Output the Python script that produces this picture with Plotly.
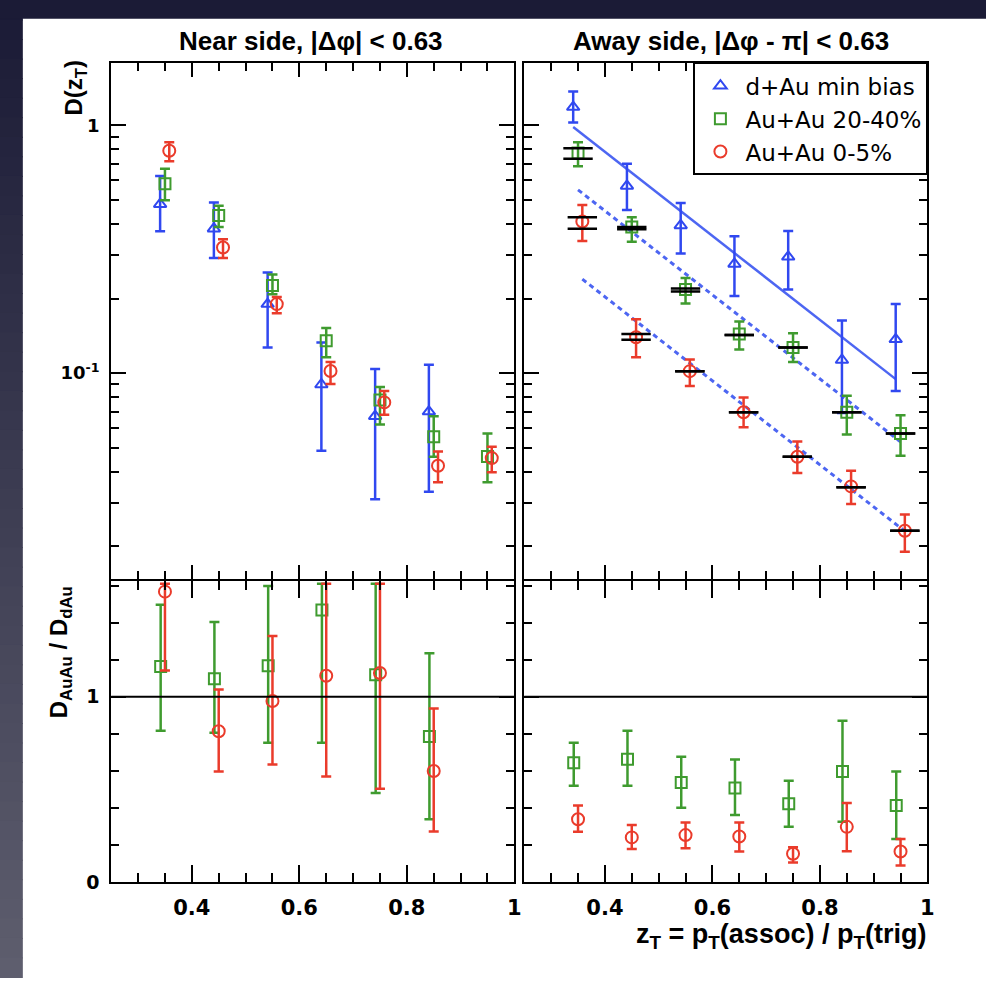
import numpy as np
import plotly.graph_objects as go

W, H = 993, 988

# ---------------------------------------------------------------- data
ZT_BINS = [0.35, 0.45, 0.55, 0.65, 0.75, 0.85, 0.95]

# Near side, |dphi| < 0.63 : D(zT) with lower / upper error bounds
NEAR_DAU = [0.481, 0.383, 0.190, 0.090, 0.067, 0.070]
NEAR_DAU_HI = [0.625, 0.489, 0.255, 0.133, 0.104, 0.108]
NEAR_DAU_LO = [0.374, 0.292, 0.127, 0.0486, 0.031, 0.0332]

NEAR_2040 = [0.582, 0.433, 0.226, 0.135, 0.078, 0.0554, 0.0461]
NEAR_2040_HI = [0.668, 0.474, 0.250, 0.152, 0.088, 0.067, 0.057]
NEAR_2040_LO = [0.499, 0.389, 0.208, 0.116, 0.062, 0.046, 0.0363]

NEAR_005 = [0.790, 0.3215, 0.190, 0.102, 0.0762, 0.0423, 0.0454]
NEAR_005_HI = [0.856, 0.347, 0.203, 0.111, 0.0848, 0.0483, 0.0505]
NEAR_005_LO = [0.717, 0.292, 0.1745, 0.0904, 0.068, 0.0363, 0.0398]

# Away side, |dphi - pi| < 0.63
AWAY_DAU = [1.187, 0.570, 0.395, 0.276, 0.295, 0.113, 0.137]
AWAY_DAU_HI = [1.37, 0.70, 0.486, 0.357, 0.375, 0.163, 0.190]
AWAY_DAU_LO = [1.028, 0.456, 0.304, 0.205, 0.2175, 0.069, 0.0848]

AWAY_2040 = [0.7735, 0.389, 0.2175, 0.144, 0.127, 0.0695, 0.057]
AWAY_2040_HI = [0.856, 0.426, 0.242, 0.1616, 0.145, 0.081, 0.0676]
AWAY_2040_LO = [0.684, 0.339, 0.191, 0.1247, 0.111, 0.0566, 0.0464]
AWAY_2040_SYS_HI = [0.81, 0.389, 0.2195, 0.1427, 0.127, 0.0695, 0.057]
AWAY_2040_SYS_LO = [0.734, 0.381, 0.2135, 0.1427, 0.127, 0.0695, 0.057]

AWAY_005 = [0.4095, 0.1396, 0.1019, 0.0695, 0.046, 0.0349, 0.0231]
AWAY_005_HI = [0.477, 0.165, 0.1134, 0.0797, 0.053, 0.0404, 0.0269]
AWAY_005_LO = [0.342, 0.116, 0.0888, 0.0605, 0.0395, 0.0296, 0.019]
AWAY_005_SYS_HI = [0.426, 0.1438, 0.1019, 0.0695, 0.046, 0.0346, 0.0231]
AWAY_005_SYS_LO = [0.383, 0.1365, 0.1019, 0.0695, 0.046, 0.0346, 0.0231]

# exponential fit to d+Au away side, and its scaled copies for Au+Au
FIT_AMP = 3.73
FIT_SLOPE = 3.905
FIT_SCALE_2040 = 0.578
FIT_SCALE_005 = 0.26

# Ratios D_AuAu / D_dAu
RATIO_NEAR_2040 = [1.163, 1.097, 1.167, 1.468, 1.119, 0.786]
RATIO_NEAR_2040_HI = [1.496, 1.403, 1.597, 1.61, 1.61, 1.234]
RATIO_NEAR_2040_LO = [0.817, 0.805, 0.752, 0.752, 0.48, 0.339]

RATIO_NEAR_005 = [1.567, 0.814, 0.977, 1.113, 1.128, 0.599]
RATIO_NEAR_005_HI = [1.61, 1.039, 1.328, 1.61, 1.61, 0.936]
RATIO_NEAR_005_LO = [1.142, 0.596, 0.635, 0.569, 0.5035, 0.273]

RATIO_AWAY_2040 = [0.644, 0.663, 0.537, 0.507, 0.422, 0.596, 0.413]
RATIO_AWAY_2040_HI = [0.752, 0.817, 0.676, 0.661, 0.546, 0.871, 0.596]
RATIO_AWAY_2040_LO = [0.520, 0.520, 0.401, 0.362, 0.298, 0.326, 0.232]

RATIO_AWAY_005 = [0.339, 0.241, 0.2535, 0.246, 0.1525, 0.298, 0.165]
RATIO_AWAY_005_HI = [0.413, 0.3085, 0.321, 0.321, 0.188, 0.427, 0.232]
RATIO_AWAY_005_LO = [0.271, 0.179, 0.1826, 0.165, 0.105, 0.166, 0.090]

LEGEND_NAMES = ["d+Au min bias", "Au+Au 20-40%", "Au+Au 0-5%"]

# ---------------------------------------------------------------- style
BLUE = "#3048f0"
GREEN = "#3f9b2f"
RED = "#ea3b2b"
FIT_BLUE = "#4d66f2"
TICK_FONT = "DejaVu Sans"
BOLD_FONT = "Liberation Sans, Arial, sans-serif"

# horizontal display shifts so overlapping series stay readable
SHIFT_TOP = {"dau": -0.009, "2040": 0.0, "005": 0.008}
SHIFT_BOT = {"2040": -0.008, "005": 0.0}


def px_x(p):
    return p / W


def px_y(p):
    return 1 - p / H


fig = go.Figure()


def add_points(xa, ya, zt, vals, hi, lo, shift, color, symbol, size,
               name=None, show=False, group=None):
    x = np.array(zt[:len(vals)]) + shift
    v = np.array(vals)
    fig.add_trace(go.Scatter(
        x=x, y=v, mode="markers", xaxis=xa, yaxis=ya,
        name=name, showlegend=show, legendgroup=group,
        marker=dict(symbol=symbol, size=size, color=color,
                    line=dict(width=2, color=color)),
        error_y=dict(type="data", symmetric=False,
                     array=np.array(hi) - v, arrayminus=v - np.array(lo),
                     color=color, thickness=2.5, width=5),
    ))


def add_sys(xa, ya, zt, levels, shift):
    x = np.array(zt[:len(levels)]) + shift
    fig.add_trace(go.Scatter(
        x=x, y=levels, mode="markers", xaxis=xa, yaxis=ya, showlegend=False,
        hoverinfo="skip",
        marker=dict(symbol="line-ew", size=21, color="black",
                    line=dict(width=2.5, color="black")),
    ))


def add_fit(xa, ya, x_first, x_last, scale, dash):
    z = np.linspace(x_first, x_last, 30)
    fig.add_trace(go.Scatter(
        x=z, y=scale * FIT_AMP * np.exp(-FIT_SLOPE * z), mode="lines",
        xaxis=xa, yaxis=ya, showlegend=False, hoverinfo="skip",
        line=dict(color=FIT_BLUE, width=2.5 if dash is None else 3,
                  dash=dash if dash else "solid"),
    ))


# near side yields (top left)
add_points("x", "y", ZT_BINS, NEAR_DAU, NEAR_DAU_HI, NEAR_DAU_LO,
           SHIFT_TOP["dau"], BLUE, "triangle-up-open", 11)
add_points("x", "y", ZT_BINS, NEAR_2040, NEAR_2040_HI, NEAR_2040_LO,
           SHIFT_TOP["2040"], GREEN, "square-open", 11)
add_points("x", "y", ZT_BINS, NEAR_005, NEAR_005_HI, NEAR_005_LO,
           SHIFT_TOP["005"], RED, "circle-open", 12)

# away side yields (top right)
zt_top = np.array(ZT_BINS)
add_fit("x2", "y2", zt_top[0] + SHIFT_TOP["dau"], zt_top[-1] + SHIFT_TOP["dau"], 1.0, None)
add_fit("x2", "y2", zt_top[0] + SHIFT_TOP["2040"], zt_top[-1] + SHIFT_TOP["2040"],
        FIT_SCALE_2040, "5px,4px")
add_fit("x2", "y2", zt_top[0] + SHIFT_TOP["005"], zt_top[-1] + SHIFT_TOP["005"],
        FIT_SCALE_005, "5px,4px")
add_points("x2", "y2", ZT_BINS, AWAY_DAU, AWAY_DAU_HI, AWAY_DAU_LO,
           SHIFT_TOP["dau"], BLUE, "triangle-up-open", 11,
           name=LEGEND_NAMES[0], show=True, group="g1")
add_points("x2", "y2", ZT_BINS, AWAY_2040, AWAY_2040_HI, AWAY_2040_LO,
           SHIFT_TOP["2040"], GREEN, "square-open", 11,
           name=LEGEND_NAMES[1], show=True, group="g2")
add_points("x2", "y2", ZT_BINS, AWAY_005, AWAY_005_HI, AWAY_005_LO,
           SHIFT_TOP["005"], RED, "circle-open", 12,
           name=LEGEND_NAMES[2], show=True, group="g3")
add_sys("x2", "y2", ZT_BINS, AWAY_2040_SYS_HI, SHIFT_TOP["2040"])
add_sys("x2", "y2", ZT_BINS, AWAY_2040_SYS_LO, SHIFT_TOP["2040"])
add_sys("x2", "y2", ZT_BINS, AWAY_005_SYS_HI, SHIFT_TOP["005"])
add_sys("x2", "y2", ZT_BINS, AWAY_005_SYS_LO, SHIFT_TOP["005"])

# ratios (bottom row)
add_points("x3", "y3", ZT_BINS, RATIO_NEAR_2040, RATIO_NEAR_2040_HI, RATIO_NEAR_2040_LO,
           SHIFT_BOT["2040"], GREEN, "square-open", 11)
add_points("x3", "y3", ZT_BINS, RATIO_NEAR_005, RATIO_NEAR_005_HI, RATIO_NEAR_005_LO,
           SHIFT_BOT["005"], RED, "circle-open", 12)
add_points("x4", "y4", ZT_BINS, RATIO_AWAY_2040, RATIO_AWAY_2040_HI, RATIO_AWAY_2040_LO,
           SHIFT_BOT["2040"], GREEN, "square-open", 11)
add_points("x4", "y4", ZT_BINS, RATIO_AWAY_005, RATIO_AWAY_005_HI, RATIO_AWAY_005_LO,
           SHIFT_BOT["005"], RED, "circle-open", 12)

# ---------------------------------------------------------------- axes
X_RANGE = [0.25, 1.0]
X_MAJOR = [0.4, 0.6, 0.8, 1.0]
X_MAJOR_TEXT = ["0.4", "0.6", "0.8", "1"]
X_MINOR = [round(v, 2) for v in np.arange(0.3, 1.0, 0.05) if round(v, 2) not in (0.4, 0.6, 0.8)]

LOG_MINOR = [k * 0.01 for k in range(2, 10)] + [k * 0.1 for k in range(2, 10)]
RATIO_MINOR = [0.2, 0.4, 0.6, 0.8, 1.2, 1.4, 1.6]

frame = dict(showline=True, linecolor="black", linewidth=2, mirror="ticks",
             ticks="inside", tickcolor="black", tickwidth=2,
             showgrid=False, zeroline=False, fixedrange=True)


def xaxis(domain, anchor, labels, ticklen, minorlen):
    return dict(frame, domain=domain, anchor=anchor, range=X_RANGE,
                tickmode="array", tickvals=X_MAJOR, ticktext=X_MAJOR_TEXT,
                ticklen=ticklen, showticklabels=labels, ticklabelstandoff=6,
                tickfont=dict(family=TICK_FONT, size=21, color="black", weight="bold"),
                minor=dict(tickmode="array", tickvals=X_MINOR, ticks="inside",
                           ticklen=minorlen, tickwidth=2, tickcolor="black",
                           showgrid=False))


def yaxis_log(domain, anchor, labels):
    return dict(frame, domain=domain, anchor=anchor, type="log",
                range=[-1.833, 0.251], tickmode="array", tickvals=[0.1, 1],
                ticktext=["10<sup>-1</sup>", "1"], ticklen=15,
                showticklabels=labels, ticklabelstandoff=6,
                tickfont=dict(family=TICK_FONT, size=18, color="black", weight="bold"),
                minor=dict(tickmode="array", tickvals=LOG_MINOR, ticks="inside",
                           ticklen=8, tickwidth=2, tickcolor="black", showgrid=False))


def yaxis_ratio(domain, anchor, labels):
    return dict(frame, domain=domain, anchor=anchor, range=[0, 1.622],
                tickmode="array", tickvals=[0, 1], ticktext=["0", "1"],
                ticklen=15, showticklabels=labels, ticklabelstandoff=6,
                tickfont=dict(family=TICK_FONT, size=19, color="black", weight="bold"),
                minor=dict(tickmode="array", tickvals=RATIO_MINOR, ticks="inside",
                           ticklen=8, tickwidth=2, tickcolor="black", showgrid=False))


# axis lines sit half a line width outside each domain, so the two rows
# are spaced 2 px apart to make their shared border a single line
XL = [px_x(112), px_x(518)]
XR = [px_x(528), px_x(934)]
YT = [px_y(586), px_y(64)]
YB = [px_y(892), px_y(588)]

# unity line in the ratio panels
shapes = []
for xr, yr in (("x3", "y3"), ("x4", "y4")):
    shapes.append(dict(type="line", xref=f"{xr} domain", yref=yr, x0=0, x1=1,
                       y0=1, y1=1, line=dict(color="black", width=2), layer="above"))

# slide backdrop: dark band on top, vertical gradient strip on the left
TOP_RGB = np.array([27, 27, 54])
BOT_RGB = np.array([94, 94, 110])
n_bands = 50
for i in range(n_bands):
    t = i / (n_bands - 1)
    c = (TOP_RGB + (BOT_RGB - TOP_RGB) * t).astype(int)
    y0 = i * H / n_bands
    y1 = (i + 1) * H / n_bands + 1
    shapes.append(dict(type="rect", xref="paper", yref="paper",
                       x0=0, x1=px_x(23), y0=px_y(y1), y1=px_y(y0),
                       fillcolor=f"rgb({c[0]},{c[1]},{c[2]})", line=dict(width=0),
                       layer="below"))
shapes.append(dict(type="rect", xref="paper", yref="paper", x0=0, x1=1,
                   y0=px_y(19), y1=1, fillcolor="rgb(27,27,54)", line=dict(width=0),
                   layer="below"))

title_font = dict(family=BOLD_FONT, size=26, color="black", weight="bold")
annotations = [
    dict(text="Near side, |Δφ| < 0.63", x=px_x(313), y=px_y(41), xref="paper",
         yref="paper", showarrow=False, font=title_font, xanchor="center",
         yanchor="middle"),
    dict(text="Away side, |Δφ - π| < 0.63", x=px_x(736), y=px_y(41), xref="paper",
         yref="paper", showarrow=False, font=title_font, xanchor="center",
         yanchor="middle"),
    dict(text="D(z<sub>T</sub>)", x=px_x(76), y=px_y(88), xref="paper", yref="paper",
         showarrow=False, textangle=-90, xanchor="center", yanchor="middle",
         font=dict(family=BOLD_FONT, size=24, color="black", weight="bold")),
    dict(text="D<sub>AuAu</sub> / D<sub>dAu</sub>", x=px_x(61), y=px_y(660),
         xref="paper", yref="paper", showarrow=False, textangle=-90,
         xanchor="center", yanchor="middle",
         font=dict(family=BOLD_FONT, size=24, color="black", weight="bold")),
    dict(text="z<sub>T</sub> = p<sub>T</sub>(assoc) / p<sub>T</sub>(trig)",
         x=px_x(935), y=px_y(947), xref="paper", yref="paper", showarrow=False,
         xanchor="right", yanchor="middle",
         font=dict(family=BOLD_FONT, size=27, color="black", weight="bold")),
]

fig.update_layout(
    width=W, height=H, margin=dict(l=0, r=0, t=0, b=0),
    paper_bgcolor="white", plot_bgcolor="white",
    xaxis=xaxis(XL, "y", False, 14, 8),
    xaxis2=xaxis(XR, "y2", False, 14, 8),
    xaxis3=xaxis(XL, "y3", True, 17, 9),
    xaxis4=xaxis(XR, "y4", True, 17, 9),
    yaxis=yaxis_log(YT, "x", True),
    yaxis2=yaxis_log(YT, "x2", False),
    yaxis3=yaxis_ratio(YB, "x3", True),
    yaxis4=yaxis_ratio(YB, "x4", False),
    shapes=shapes,
    annotations=annotations,
    showlegend=True,
    legend=dict(x=px_x(935), xanchor="right", y=px_y(63), yanchor="top",
                bgcolor="white", bordercolor="black", borderwidth=2,
                font=dict(family=TICK_FONT, size=23, color="black"),
                tracegroupgap=9, itemwidth=40, traceorder="normal"),
)

fig.write_html("out.html")
